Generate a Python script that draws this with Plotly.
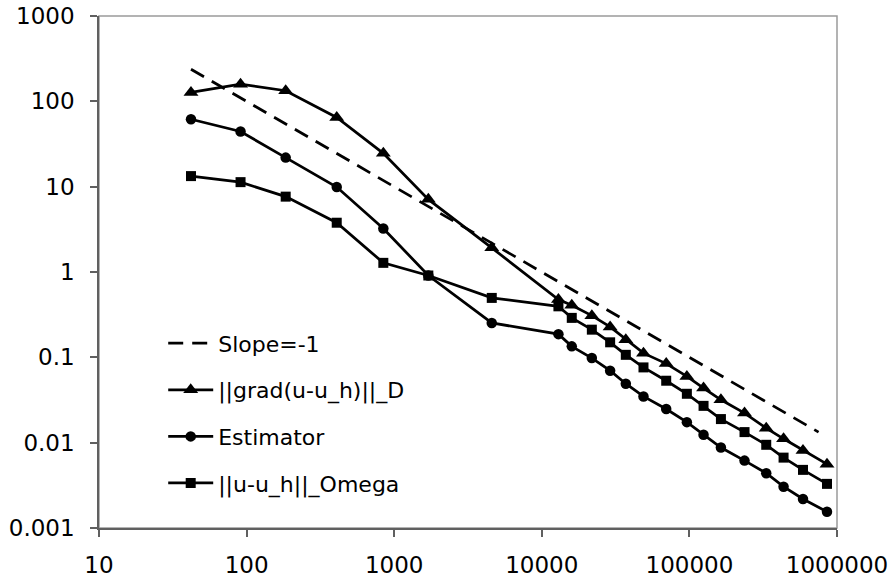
import plotly.graph_objects as go

# degrees of freedom (x values)
dofs = [42, 91, 184, 408, 844, 1703, 4582, 12960, 15960, 21830, 29040, 37080,
        48860, 69640, 96130, 124700, 163500, 236300, 331600, 434500, 588300, 855400]

grad_err = [127, 159, 133, 64.6, 24.6, 7.1, 1.92, 0.475, 0.407, 0.308, 0.227, 0.161,
            0.112, 0.0844, 0.0597, 0.0436, 0.0318, 0.0222, 0.0148, 0.0111, 0.0081, 0.0056]

estimator = [61.7, 44.3, 21.9, 9.9, 3.24, 0.91, 0.253, 0.187, 0.1345, 0.0981, 0.0697, 0.0491,
             0.0348, 0.0248, 0.0174, 0.0124, 0.00877, 0.00616, 0.00438, 0.00305, 0.00219, 0.00155]

omega_err = [13.3, 11.3, 7.64, 3.78, 1.28, 0.91, 0.497, 0.396, 0.290, 0.211, 0.150, 0.107,
             0.0762, 0.0532, 0.0374, 0.0270, 0.0189, 0.0133, 0.00944, 0.00668, 0.00480, 0.00329]

slope_x = [42, 750000]
slope_y = [238, 0.0133]

x_tickvals = [10, 100, 1000, 10000, 100000, 1000000]
x_ticktext = ["10", "100", "1000", "10000", "100000", "1000000"]
y_tickvals = [0.001, 0.01, 0.1, 1, 10, 100, 1000]
y_ticktext = ["0.001", "0.01", "0.1", "1", "10", "100", "1000"]

FONT = "DejaVu Sans, Verdana, sans-serif"
AX = "#606060"
LW = 2.75

fig = go.Figure()
fig.add_trace(go.Scatter(x=slope_x, y=slope_y, mode="lines", name="Slope=-1",
                         legendgroup="a",
                         line=dict(color="black", width=LW, dash="15px,9px")))
fig.add_trace(go.Scatter(x=dofs, y=grad_err, mode="lines+markers", name="||grad(u-u_h)||_D",
                         legendgroup="b",
                         line=dict(color="black", width=LW),
                         marker=dict(symbol="triangle-up", size=13, color="black")))
fig.add_trace(go.Scatter(x=dofs, y=estimator, mode="lines+markers", name="Estimator",
                         legendgroup="c",
                         line=dict(color="black", width=LW),
                         marker=dict(symbol="circle", size=10.5, color="black")))
fig.add_trace(go.Scatter(x=dofs, y=omega_err, mode="lines+markers", name="||u-u_h||_Omega",
                         legendgroup="d",
                         line=dict(color="black", width=LW),
                         marker=dict(symbol="square", size=10, color="black")))

fig.update_layout(
    width=892, height=578,
    margin=dict(l=99, r=55, t=16, b=50, autoexpand=False),
    paper_bgcolor="white", plot_bgcolor="white",
    font=dict(family=FONT, size=22, color="black"),
    showlegend=True,
    legend=dict(x=0.087, y=0.4016, xanchor="left", yanchor="top",
                bgcolor="rgba(0,0,0,0)", traceorder="grouped",
                tracegroupgap=15, itemwidth=45,
                font=dict(family=FONT, size=22, color="black")),
    shapes=[dict(type="rect", xref="paper", yref="paper", x0=0, x1=1, y0=0, y1=1,
                 line=dict(color="#9a9a9a", width=1.5), layer="below")],
)
fig.update_xaxes(type="log", range=[1, 6], tickvals=x_tickvals, ticktext=x_ticktext,
                 automargin=False,
                 showgrid=False, zeroline=False, showline=True, linecolor=AX, linewidth=1.5,
                 ticks="outside", ticklen=7, tickcolor=AX, tickwidth=1.5,
                 ticklabelstandoff=9,
                 tickfont=dict(family=FONT, size=23, color="black"))
fig.update_yaxes(type="log", range=[-3, 3], tickvals=y_tickvals, ticktext=y_ticktext,
                 automargin=False,
                 showgrid=False, zeroline=False, showline=True, linecolor=AX, linewidth=1.5,
                 ticks="outside", ticklen=7, tickcolor=AX, tickwidth=1.5,
                 ticklabelstandoff=11,
                 tickfont=dict(family=FONT, size=23, color="black"))

# remove the default 8px page margin so the figure fills the window exactly
fig.write_html(
    "out.html",
    config={"displayModeBar": False},
    post_script="document.documentElement.style.margin='0';"
                "document.body.style.margin='0';"
                "document.body.style.overflow='hidden';",
)
